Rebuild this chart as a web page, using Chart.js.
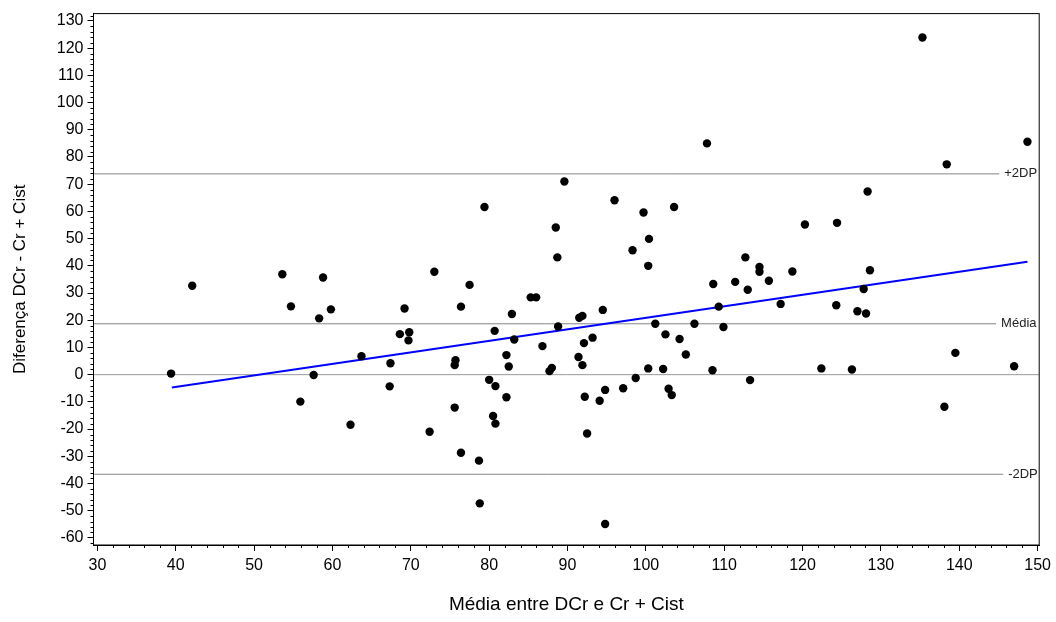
<!DOCTYPE html>
<html>
<head>
<meta charset="utf-8">
<script src="https://cdn.jsdelivr.net/npm/chart.js@4.4.1/dist/chart.umd.min.js"></script>
<style>
  body { margin: 0; background: #fff; }
  #wrap { width: 1056px; height: 622px; }
</style>
</head>
<body>
<div id="wrap"><canvas id="bland" width="1056" height="622"></canvas></div>
<script>
// Bland-Altman: média entre DCr e Cr + Cist vs diferença
const meanValues = [39.4, 42.1, 53.6, 58.8, 54.7, 59.8, 58.3, 69.2, 68.6, 69.8, 69.7, 63.7, 67.4, 57.6, 67.3, 55.9, 62.3,
    73.0, 77.5, 79.4, 89.6, 96.0, 99.7, 103.6, 88.5, 100.4, 98.3, 88.7, 100.3, 108.6, 107.8, 135.3, 148.7, 138.4,
    128.3, 120.3, 124.4, 112.7, 114.5, 114.5, 115.7, 118.7, 128.6, 111.4, 113.0, 127.8, 109.3, 117.2, 124.3, 127.0,
    128.1, 109.9, 108.5, 122.4, 126.3, 113.3, 139.5, 147.0, 138.1, 76.4, 85.3, 86.0, 82.9, 94.5, 91.5, 91.9, 88.8,
    101.2, 106.2, 80.7, 83.2, 92.1, 93.2, 102.5, 104.3, 86.8, 105.1, 82.2, 75.7, 75.6, 82.5, 91.4, 91.9, 88.0, 87.7,
    100.3, 102.2, 80.0, 80.8, 98.7, 94.8, 97.1, 92.2, 94.1, 102.9, 103.3, 82.2, 75.6, 80.5, 80.8, 72.4, 92.5, 76.4,
    78.7, 78.8, 94.8];
const diffValues = [0.4, 32.7, 36.9, 35.7, 25.1, 24.0, 20.7, 24.3, 14.9, 15.6, 12.6, 6.8, 4.2, -0.1, -4.3, -9.9, -18.4,
    37.8, 33.0, 61.6, 71.0, 64.1, 59.6, 61.6, 54.1, 49.9, 45.7, 43.1, 40.0, 33.3, 85.0, 123.9, 85.6, 77.3,
    67.3, 55.2, 55.8, 43.1, 39.6, 37.8, 34.5, 37.9, 38.4, 34.1, 31.2, 31.5, 25.0, 26.0, 25.5, 23.3,
    22.5, 17.5, 1.6, 2.3, 1.9, -2.0, 8.0, 3.1, -11.8, 25.0, 28.4, 28.4, 22.3, 23.8, 20.9, 21.6, 17.7,
    18.7, 18.7, 16.1, 12.9, 11.6, 13.6, 14.8, 13.1, 10.5, 7.4, 7.2, 5.3, 3.5, 3.0, 6.5, 3.5, 2.5, 1.3,
    2.3, 2.1, -1.9, -4.2, -1.2, -5.6, -5.0, -8.1, -9.6, -5.2, -7.5, -8.3, -12.1, -15.2, -18.0, -21.0, -21.6, -28.7,
    -31.6, -47.3, -54.9];

// linha de regressão (pontos extremos)
const trendX = [39.5, 148.7];
const trendY = [-4.7, 41.5];

// linhas de referência: valor, fim da linha, rótulo
const refNames = ['+2DP', 'Média', '-2DP'];
const refValues = [73.8, 18.7, -36.6];
const refEnds = [145.1, 144.7, 145.6];

const xRange = [29.5, 150.2];
const yRange = [-62.6, 132.7];

const FONT = "'Liberation Sans', Arial, Helvetica, sans-serif";

const points = meanValues.map((m, i) => ({ x: m, y: diffValues[i] }));

const datasets = [
    {
        type: 'scatter',
        label: 'pontos',
        data: points,
        backgroundColor: '#000',
        borderWidth: 0,
        pointRadius: 4.2
    },
    {
        type: 'line',
        label: 'regressão',
        data: trendX.map((x, i) => ({ x: x, y: trendY[i] })),
        borderColor: '#0000ff',
        borderWidth: 2,
        pointRadius: 0,
        fill: false
    },
    {
        type: 'line',
        label: 'zero',
        data: [{ x: xRange[0], y: 0 }, { x: xRange[1], y: 0 }],
        borderColor: '#9a9a9a',
        borderWidth: 1,
        pointRadius: 0
    }
];

refNames.forEach((name, i) => {
    datasets.push({
        type: 'line',
        label: name,
        data: [{ x: xRange[0], y: refValues[i] }, { x: refEnds[i], y: refValues[i] }],
        borderColor: '#858585',
        borderWidth: 1,
        pointRadius: 0
    });
});

// moldura, marcas secundárias e rótulos das linhas
const extrasPlugin = {
    id: 'extras',
    afterDatasetsDraw(chart) {
        const { ctx, chartArea, scales } = chart;
        const xs = scales.x, ys = scales.y;
        ctx.save();
        ctx.strokeStyle = '#000';
        ctx.lineWidth = 1;
        ctx.strokeRect(chartArea.left, chartArea.top, chartArea.right - chartArea.left, chartArea.bottom - chartArea.top);

        ctx.beginPath();
        for (let v = 30; v <= 150; v += 2) {
            if (v % 10 === 0) continue;
            const px = Math.round(xs.getPixelForValue(v)) + 0.5;
            ctx.moveTo(px, chartArea.bottom);
            ctx.lineTo(px, chartArea.bottom + 3);
        }
        for (let v = -62; v <= 132; v += 2) {
            if (v % 10 === 0) continue;
            const py = Math.round(ys.getPixelForValue(v)) + 0.5;
            ctx.moveTo(chartArea.left, py);
            ctx.lineTo(chartArea.left - 3, py);
        }
        ctx.stroke();

        ctx.fillStyle = '#222';
        ctx.font = '13px ' + FONT;
        ctx.textBaseline = 'middle';
        ctx.textAlign = 'left';
        refNames.forEach((name, i) => {
            ctx.fillText(name, xs.getPixelForValue(refEnds[i]) + 5, ys.getPixelForValue(refValues[i]));
        });
        ctx.restore();
    }
};

new Chart(document.getElementById('bland'), {
    data: { datasets },
    options: {
        responsive: false,
        animation: false,
        layout: { padding: { top: 11, right: 16, left: 0, bottom: 0 } },
        plugins: {
            legend: { display: false },
            tooltip: { enabled: false }
        },
        scales: {
            x: {
                type: 'linear',
                position: 'bottom',
                min: xRange[0],
                max: xRange[1],
                afterFit: (scale) => { scale.height = 77; },
                ticks: {
                    stepSize: 10,
                    includeBounds: false,
                    maxTicksLimit: 40,
                    autoSkip: false,
                    maxRotation: 0,
                    padding: 5,
                    color: '#000',
                    font: { family: FONT, size: 16 }
                },
                grid: {
                    drawOnChartArea: false,
                    drawTicks: true,
                    tickLength: 6,
                    tickColor: '#000'
                },
                border: { display: true, color: '#000', width: 1 },
                title: {
                    display: true,
                    text: 'Média entre DCr e Cr + Cist',
                    color: '#000',
                    font: { family: FONT, size: 19 },
                    padding: { top: 0, bottom: 6 }
                }
            },
            y: {
                type: 'linear',
                min: yRange[0],
                max: yRange[1],
                afterFit: (scale) => { scale.width = 93.5; },
                ticks: {
                    stepSize: 10,
                    includeBounds: false,
                    maxTicksLimit: 40,
                    autoSkip: false,
                    padding: 4,
                    color: '#000',
                    font: { family: FONT, size: 16 }
                },
                grid: {
                    drawOnChartArea: false,
                    drawTicks: true,
                    tickLength: 6,
                    tickColor: '#000'
                },
                border: { display: true, color: '#000', width: 1 },
                title: {
                    display: true,
                    text: 'Diferença DCr - Cr + Cist',
                    color: '#000',
                    font: { family: FONT, size: 17 },
                    padding: { top: 10, bottom: 0 }
                }
            }
        }
    },
    plugins: [extrasPlugin]
});
</script>
</body>
</html>
